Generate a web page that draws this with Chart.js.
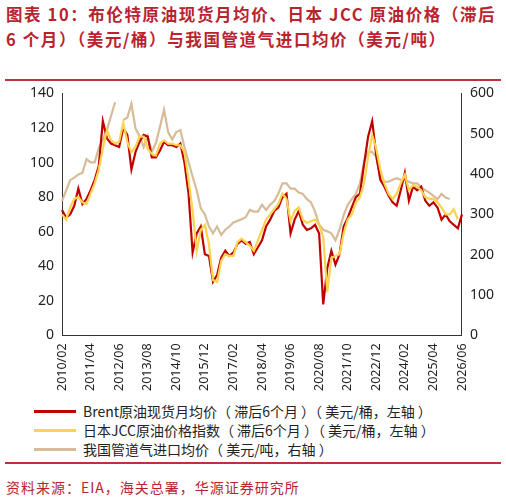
<!DOCTYPE html>
<html><head><meta charset="utf-8">
<script src="https://cdn.jsdelivr.net/npm/chart.js@4"></script>
<style>
body{margin:0;width:506px;height:500px;background:#fff;font-family:"Noto Sans CJK SC","Noto Sans",sans-serif;position:relative;overflow:hidden}
#title{position:absolute;left:6px;top:2px;width:498px;color:#b8232f;font-weight:bold;font-size:16.5px;line-height:24.5px;letter-spacing:1.6px}
.rule{position:absolute;left:5px;width:496px;height:2px;background:#c0303a}
#wrap{position:absolute;left:0;top:82px;width:506px;height:312px}
#legend{position:absolute;left:34px;top:402px;font-size:14px;color:#222;line-height:19px}
#legend div{display:flex;align-items:center}
#legend span.l{display:inline-block;width:42px;height:3px;margin-right:7px}
#src{position:absolute;left:6px;top:477px;color:#b8232f;font-size:14px;letter-spacing:1px}
</style></head><body>
<div id="title">图表 10：布伦特原油现货月均价、日本 JCC 原油价格（滞后 6 个月）（美元/桶）与我国管道气进口均价（美元/吨）</div>
<div class="rule" style="top:79px"></div>
<div id="wrap"><canvas id="c"></canvas></div>
<div id="legend">
<div><span class="l" style="background:#c00000"></span>Brent原油现货月均价（ 滞后6个月 ）（ 美元/桶，左轴 ）</div>
<div><span class="l" style="background:#ffd34d"></span>日本JCC原油价格指数（ 滞后6个月 ）（ 美元/桶，左轴 ）</div>
<div><span class="l" style="background:#d6bc98"></span>我国管道气进口均价（ 美元/吨，右轴 ）</div>
</div>
<div class="rule" style="top:462px"></div>
<div id="src">资料来源：EIA，海关总署，华源证券研究所</div>
<script>
// bimonthly points, 2010/02 .. 2026/06
const months = [];
for (let y = 2010; y <= 2026; y++) for (let m = 2; m <= 12; m += 2) {
  if (y === 2026 && m > 6) break;
  months.push(y + '/' + String(m).padStart(2, '0'));
}
const tickLabels = ['2010/02','2011/04','2012/06','2013/08','2014/10','2015/12','2017/02','2018/04','2019/06','2020/08','2021/10','2022/12','2024/02','2025/04','2026/06'];

const brent = [72.5,68,70,75,85,76,79,84,90,98,124,114,111,110,109,120,116,96,106,112,116,115,103,103,107,112,110,110,109,111,100,82,48,59,63,47,46,31,35,45,49,46,48,53,55,53,54,47,51,55,63,67,72,74,80,82,59,67,72,64,61,62,64,59,18,39,49,41,47,63,68,74,80,82,99,115,124,104,90,86,81,77,75,84,94,78,86,84,86,78,75,77,74,67,70,66,64,62,70];
const jcc = [70,67,74,79,80,77,76,82,88,96,108,119,113,111,112,123,112,106,109,115,115,108,105,104,111,113,111,111,110,110,106,90,72,49,61,64,53,32,31,43,47,46,46,54,56,54,52,49,55,61,67,70,73,76,82,79,66,72,74,67,65,66,67,64,57,25,45,46,47,59,67,70,77,80,88,103,116,108,96,88,82,79,82,88,93,84,87,86,84,80,79,79,77,74,70,70,73,67,null];
const gas = [333,359,385,391,399,403,437,429,429,464,485,509,544,578,null,534,540,574,513,494,467,494,455,477,517,560,504,486,504,509,467,429,394,360,315,300,270,253,270,249,262,270,280,284,288,293,311,307,307,324,311,324,333,351,377,377,364,364,354,351,338,330,307,275,262,258,253,236,262,298,324,338,351,377,429,455,455,442,390,381,381,386,390,386,386,381,377,377,368,360,354,346,338,351,342,338,null,null,null];

Chart.defaults.font.family = '"Noto Sans","Noto Sans CJK SC",sans-serif';
Chart.defaults.color = '#222';

new Chart(document.getElementById('c'), {
  type: 'line',
  data: {
    labels: months,
    datasets: [
      { label: 'gas', data: gas, yAxisID: 'y2', borderColor: '#d6bc98', borderWidth: 2.2, pointRadius: 0, tension: 0, spanGaps: false, order: 3 },
      { label: 'brent', data: brent, yAxisID: 'y', borderColor: '#c00000', borderWidth: 2.2, pointRadius: 0, tension: 0, order: 2 },
      { label: 'jcc', data: jcc, yAxisID: 'y', borderColor: '#ffd34d', borderWidth: 2.2, pointRadius: 0, tension: 0, order: 1 }
    ]
  },
  options: {
    responsive: true, maintainAspectRatio: false, animation: false,
    layout: { padding: { left: 27, right: 9, top: 6, bottom: 0 } },
    plugins: { legend: { display: false }, tooltip: { enabled: false } },
    scales: {
      x: {
        grid: { display: false, drawTicks: true, tickLength: 5, color: '#333' },
        border: { color: '#333' },
        ticks: {
          autoSkip: false, maxRotation: 90, minRotation: 90, font: { size: 12.5 },
          callback: function(v, i) { const l = months[i]; return tickLabels.includes(l) ? l : null; }
        }
      },
      y: {
        position: 'left', min: 0, max: 140,
        grid: { display: false, drawTicks: true, tickLength: 5 },
        border: { color: '#333' },
        ticks: { stepSize: 20, font: { size: 14 } }
      },
      y2: {
        position: 'right', min: 0, max: 600,
        grid: { display: false, drawTicks: true, tickLength: 5 },
        border: { color: '#333' },
        ticks: { stepSize: 100, font: { size: 14 } }
      }
    }
  }
});
</script>
</body></html>
